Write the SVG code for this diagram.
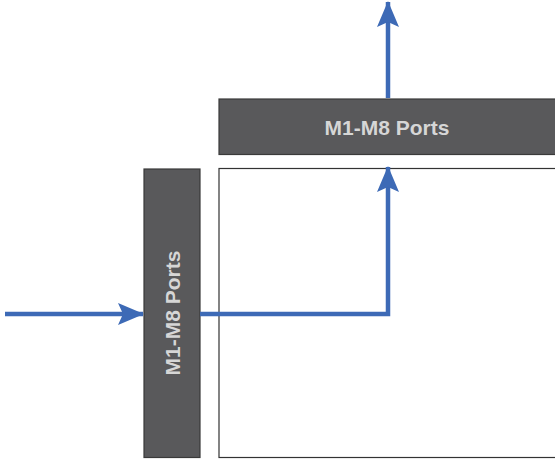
<svg xmlns="http://www.w3.org/2000/svg" width="555" height="460" viewBox="0 0 555 460">
<style>
.port{fill:#59595b;stroke:#3a3a3a;stroke-width:1.2}
.lbl{font-family:"Liberation Sans",Arial,Helvetica,sans-serif;font-weight:bold;font-size:21px;fill:#d6d6d6;text-anchor:middle;dominant-baseline:central}
.conn{fill:none;stroke:#3d6ab6;stroke-width:4.5}
</style>
<defs>
<marker id="ah" viewBox="0 0 26 22" refX="25" refY="11" markerWidth="26" markerHeight="22" markerUnits="userSpaceOnUse" orient="auto">
<path d="M0,0 L26,11 L0,22 L5,11 Z" fill="#3d6ab6"/>
</marker>
</defs>
<g id="region">
<rect x="219" y="168.5" width="340" height="289" fill="#ffffff" stroke="#333333" stroke-width="1.2"/>
</g>
<g id="top-ports">
<rect class="port" x="219" y="99" width="340" height="55.5"/>
<text class="lbl" x="387" y="127">M1-M8 Ports</text>
</g>
<g id="left-ports">
<rect class="port" x="144" y="169" width="56" height="288.5"/>
<text class="lbl" transform="translate(172,313) rotate(-90)">M1-M8 Ports</text>
</g>
<g id="connectors">
<path class="conn" d="M5,314 H143" marker-end="url(#ah)"/>
<path class="conn" d="M200,314 H388 V167" marker-end="url(#ah)"/>
<path class="conn" d="M388,98 V2" marker-end="url(#ah)"/>
</g>
</svg>
